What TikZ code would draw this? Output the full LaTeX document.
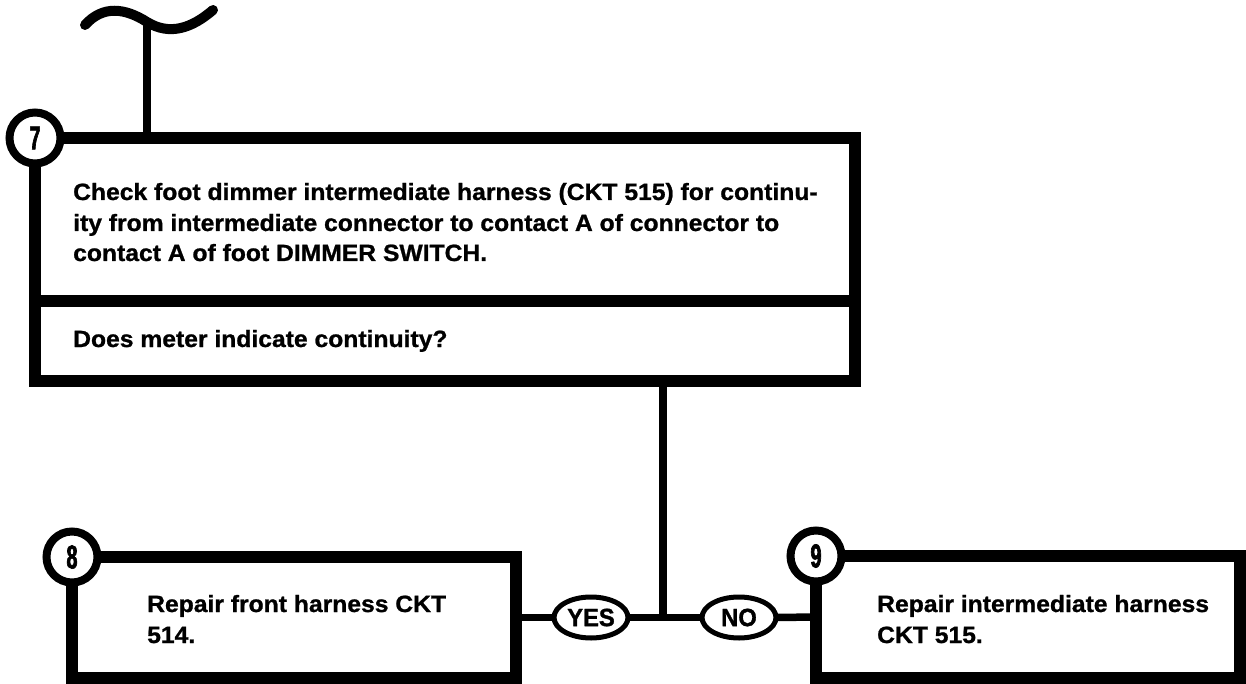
\documentclass[tikz,border=0pt]{standalone}
\usepackage{fontspec}
\setmainfont{Liberation Sans}[FakeStretch=1.05, BoldFeatures={FakeBold=1}]
\newfontfamily\labfont{Liberation Sans}[FakeStretch=0.95, BoldFeatures={FakeBold=1.2}]
\newfontfamily\numfont{Liberation Sans}[FakeStretch=0.6, BoldFeatures={FakeBold=2}]
\usetikzlibrary{shapes.geometric}
\begin{document}
\begin{tikzpicture}[x=1pt,y=-1pt,
  boxshape/.style={draw, line width=12.5pt, rectangle, inner sep=0pt, outer sep=0pt, anchor=north west, fill=white},
  conn/.style={line width=7.5pt},
  numcircle/.style={circle, draw, line width=8pt, fill=white, minimum size=51pt, inner sep=0pt, outer sep=0pt,
    font=\numfont\fontsize{33}{33}\bfseries},
  answer/.style={ellipse, draw, line width=5pt, fill=white, minimum width=74pt, minimum height=41pt,
    inner sep=0pt, outer sep=0pt, font=\labfont\fontsize{25}{25}\bfseries},
  txt/.style={anchor=base west, inner sep=0pt, font=\fontsize{23.5}{30}\bfseries},
  tildeline/.style={line width=10pt, line cap=round}]
\useasboundingbox (0,0) rectangle (1246,684);
\fill[white] (0,0) rectangle (1246,684);

% tilde symbol and its stem
\coordinate (t) at (147,22);
\draw[tildeline] (85,25) .. controls (103,5) and (125,8) .. (t) .. controls (170,36) and (192,28) .. (213,10);

% main box (step 7)
\node[boxshape, minimum width=820pt, minimum height=163pt] (b7) at (35,138) {};
\node[boxshape, minimum width=820pt, minimum height=80pt] (b7q) at (35,301) {};
\draw[conn] (t) -- (t |- b7.north);
\node[numcircle] (c7) at (b7.north west) {7};

\node[txt] (t71) at (73,200) {Check foot dimmer intermediate harness (CKT 515) for continu-};
\node[txt] (t72) at (73,231) {ity from intermediate connector to contact A of connector to};
\node[txt] (t73) at (73,261) {contact A of foot DIMMER SWITCH.};
\node[txt] (t74) at (73,347) {Does meter indicate continuity?};

% result boxes
\node[boxshape, minimum width=444pt, minimum height=121pt] (b8) at (72,557) {};
\node[boxshape, minimum width=424pt, minimum height=122pt] (b9) at (816,556) {};
\node[numcircle] (c8) at (b8.north west) {8};
\node[numcircle] (c9) at (b9.north west) {9};

\node[txt] (t81) at (147,612) {Repair front harness CKT};
\node[txt] (t82) at (147,643) {514.};
\node[txt] (t91) at (877,612) {Repair intermediate harness};
\node[txt] (t92) at (877,643) {CKT 515.};

% connectors
\coordinate (j) at (663,617.5);
\node[answer] (yes) at (591,617.5) {YES};
\node[answer] (no) at (739,617.5) {NO};
\draw[conn] (b7q.south -| j) -- (j);
\draw[conn] (b8.east) -- (yes.west);
\draw[conn] (yes.east) -- (j) -- (no.west);
\draw[conn] (no.east) -- (b9.west);
\end{tikzpicture}
\end{document}
